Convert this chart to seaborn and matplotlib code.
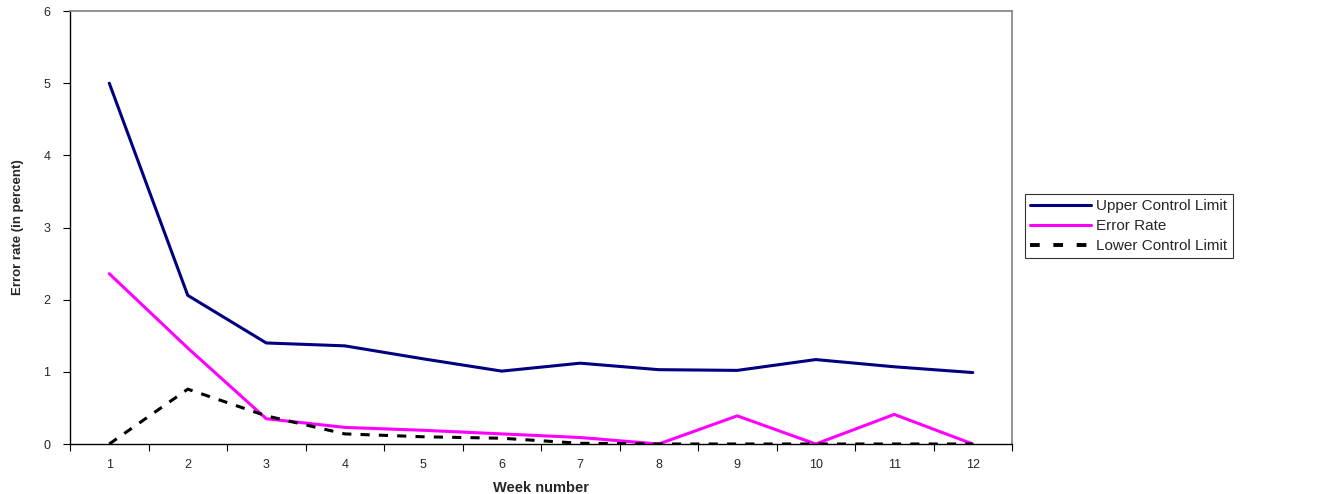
import matplotlib
matplotlib.use("Agg")
import matplotlib.pyplot as plt
import seaborn as sns
import pandas as pd
import numpy as np

weeks = list(range(1, 13))
week_labels = [str(w) for w in weeks]
upper_limit = [5.00, 2.06, 1.40, 1.36, 1.18, 1.01, 1.12, 1.03, 1.02, 1.17, 1.07, 0.99]
error_rate = [2.36, 1.33, 0.35, 0.23, 0.19, 0.14, 0.09, 0.00, 0.39, 0.00, 0.41, 0.00]
lower_limit = [0.00, 0.76, 0.39, 0.14, 0.10, 0.08, 0.01, 0.00, 0.00, 0.00, 0.00, 0.00]

series_names = ["Upper Control Limit", "Error Rate", "Lower Control Limit"]
series_colors = ["#000080", "#FF00FF", "#000000"]

df = pd.DataFrame({
    "week": weeks * 3,
    "value": upper_limit + error_rate + lower_limit,
    "series": [n for n in series_names for _ in weeks],
})

sns.set_style("white")
plt.rcParams["font.family"] = ["Liberation Sans", "DejaVu Sans"]

fig = plt.figure(figsize=(13.18, 4.94), dpi=100)
ax = fig.add_axes([70 / 1318, 50 / 494, (1012 - 70) / 1318, (444 - 11) / 494])

sns.lineplot(
    data=df, x="week", y="value", hue="series", style="series",
    hue_order=series_names, style_order=series_names,
    palette=dict(zip(series_names, series_colors)),
    dashes={series_names[0]: "", series_names[1]: "", series_names[2]: (3, 3)},
    linewidth=2.2, ax=ax, legend=False,
)

ax.set_xlim(0.5, 12.5)
ax.set_ylim(0, 6)

# category labels at the centres, tick marks on the category boundaries
ax.set_xticks(np.arange(0.5, 13.0, 1.0))
ax.set_xticklabels([])
ax.set_xticks(weeks, minor=True)
ax.set_xticklabels(week_labels, minor=True, fontsize=9)
ax.tick_params(axis="x", which="major", direction="out", length=5, width=0.8, color="black", bottom=True)
ax.tick_params(axis="x", which="minor", length=0, pad=11)
ax.set_yticks(range(0, 7))
ax.tick_params(axis="y", direction="out", length=5, width=0.8, color="black", left=True,
               labelsize=9, pad=9)

for side in ["left", "bottom"]:
    ax.spines[side].set_color("black")
    ax.spines[side].set_linewidth(1.0)
for side in ["top", "right"]:
    ax.spines[side].set_color("#808080")
    ax.spines[side].set_linewidth(1.2)

ax.set_xlabel("Week number", fontsize=10.5, fontweight="bold", labelpad=7)
ax.set_ylabel("Error rate (in percent)", fontsize=9.5, fontweight="bold", labelpad=14)

handles = [
    plt.Line2D([], [], color=series_colors[0], linewidth=2.2),
    plt.Line2D([], [], color=series_colors[1], linewidth=2.2),
    plt.Line2D([], [], color=series_colors[2], linewidth=2.8, dashes=(2.5, 3.5)),
]
leg = fig.legend(
    handles, series_names, loc="upper left",
    bbox_to_anchor=(1025 / 1318, (494 - 194) / 494),
    fontsize=11, frameon=True, fancybox=False, edgecolor="black",
    handlelength=4.0, handletextpad=0.3, borderpad=0.35, labelspacing=0.38,
    borderaxespad=0,
)
leg.get_frame().set_linewidth(0.8)

fig.savefig("out.png", dpi=100)
